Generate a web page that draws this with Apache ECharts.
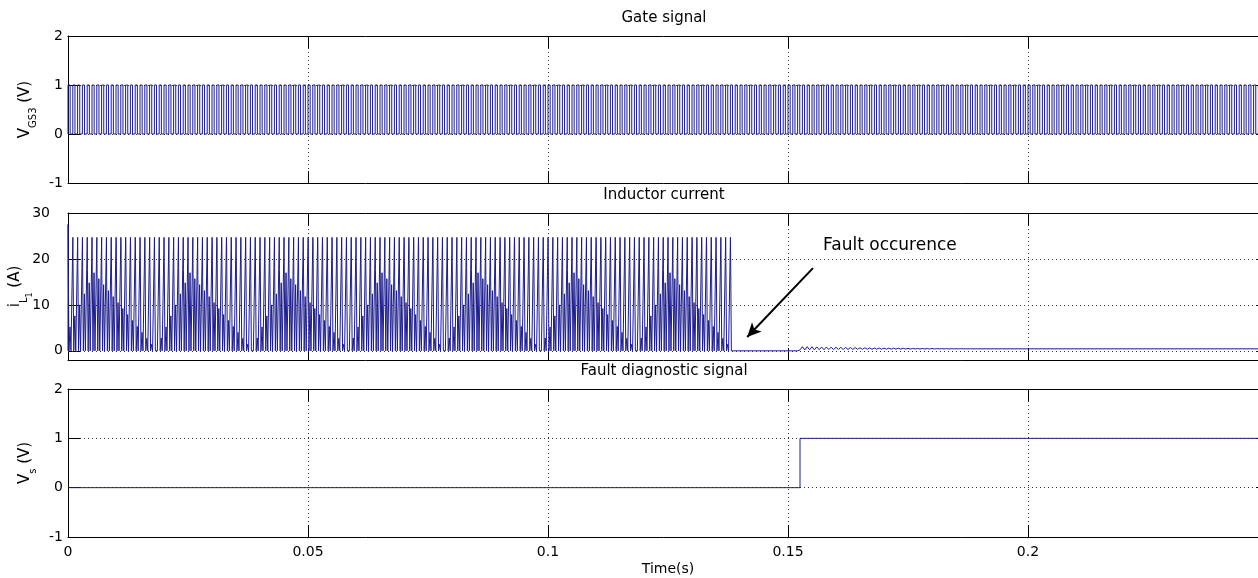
<!DOCTYPE html>
<html><head><meta charset="utf-8">
<script src="https://cdn.jsdelivr.net/npm/echarts@6/dist/echarts.min.js"></script>
<style>html,body{margin:0;padding:0;background:#fff}#c{width:1258px;height:578px}</style>
</head><body><div id="c"></div>
<script>
// ---------------- data ----------------
const panelTitles = ['Gate signal', 'Inductor current', 'Fault diagnostic signal'];
const xLabel = 'Time(s)';
const xRange = [0, 0.25];
const xStep = 0.05;

// Gate signal (PWM)
const gatePeriod = 0.001;   // s
const gateDuty = 0.45;
const gateLevels = [0, 1];

// Inductor current: one pulse per switching period until the fault
const pulsePeriod = 0.001;  // s
const pulsePeak = [27.5, 24.7, 24.7, 24.7, 24.7, 24.7, 24.7, 24.7, 24.7, 24.7,
  24.7, 24.7, 24.7, 24.7, 24.7, 24.7, 24.7, 24.7, 24.7, 24.7, 24.7, 24.7, 24.7, 24.7, 24.7, 24.7, 24.7, 24.7, 24.7, 24.7,
  24.7, 24.7, 24.7, 24.7, 24.7, 24.7, 24.7, 24.7, 24.7, 24.7, 24.7, 24.7, 24.7, 24.7, 24.7, 24.7, 24.7, 24.7, 24.7, 24.7,
  24.7, 24.7, 24.7, 24.7, 24.7, 24.7, 24.7, 24.7, 24.7, 24.7, 24.7, 24.7, 24.7, 24.7, 24.7, 24.7, 24.7, 24.7, 24.7, 24.7,
  24.7, 24.7, 24.7, 24.7, 24.7, 24.7, 24.7, 24.7, 24.7, 24.7, 24.7, 24.7, 24.7, 24.7, 24.7, 24.7, 24.7, 24.7, 24.7, 24.7,
  24.7, 24.7, 24.7, 24.7, 24.7, 24.7, 24.7, 24.7, 24.7, 24.7, 24.7, 24.7, 24.7, 24.7, 24.7, 24.7, 24.7, 24.7, 24.7, 24.7,
  24.7, 24.7, 24.7, 24.7, 24.7, 24.7, 24.7, 24.7, 24.7, 24.7, 24.7, 24.7, 24.7, 24.7, 24.7, 24.7, 24.7, 24.7, 24.7, 24.7,
  24.7, 24.7, 24.7, 24.7, 24.7, 24.7, 24.7, 24.7, 24.7];
const pulseMid = [19.5, 19.1, 18.6, 18.2, 17.7, 17.3, 16.8, 16.4, 15.9,
  24.5, 24.0, 23.6, 23.1, 22.7, 22.2, 21.8, 21.3, 20.9, 20.4, 20.0, 19.5, 19.1, 18.6, 18.2, 17.7, 17.3, 16.8, 16.4, 15.9,
  24.5, 24.0, 23.6, 23.1, 22.7, 22.2, 21.8, 21.3, 20.9, 20.4, 20.0, 19.5, 19.1, 18.6, 18.2, 17.7, 17.3, 16.8, 16.4, 15.9,
  24.5, 24.0, 23.6, 23.1, 22.7, 22.2, 21.8, 21.3, 20.9, 20.4, 20.0, 19.5, 19.1, 18.6, 18.2, 17.7, 17.3, 16.8, 16.4, 15.9,
  24.5, 24.0, 23.6, 23.1, 22.7, 22.2, 21.8, 21.3, 20.9, 20.4, 20.0, 19.5, 19.1, 18.6, 18.2, 17.7, 17.3, 16.8, 16.4, 15.9,
  24.5, 24.0, 23.6, 23.1, 22.7, 22.2, 21.8, 21.3, 20.9, 20.4, 20.0, 19.5, 19.1, 18.6, 18.2, 17.7, 17.3, 16.8, 16.4, 15.9,
  24.5, 24.0, 23.6, 23.1, 22.7, 22.2, 21.8, 21.3, 20.9, 20.4, 20.0, 19.5, 19.1, 18.6, 18.2, 17.7, 17.3, 16.8, 16.4, 15.9,
  24.5, 24.0, 23.6, 23.1, 22.7, 22.2, 21.8, 21.3, 20.9, 20.4];
const pulseKnee = [5.2, 7.6, 10.0, 12.4, 14.8,
  17.0, 15.7, 14.4, 13.1, 11.8, 10.5, 9.2, 7.9, 6.6, 5.3, 4.0, 2.7, 1.4, 0.4, 2.8, 5.2, 7.6, 10.0, 12.4, 14.8,
  17.0, 15.7, 14.4, 13.1, 11.8, 10.5, 9.2, 7.9, 6.6, 5.3, 4.0, 2.7, 1.4, 0.4, 2.8, 5.2, 7.6, 10.0, 12.4, 14.8,
  17.0, 15.7, 14.4, 13.1, 11.8, 10.5, 9.2, 7.9, 6.6, 5.3, 4.0, 2.7, 1.4, 0.4, 2.8, 5.2, 7.6, 10.0, 12.4, 14.8,
  17.0, 15.7, 14.4, 13.1, 11.8, 10.5, 9.2, 7.9, 6.6, 5.3, 4.0, 2.7, 1.4, 0.4, 2.8, 5.2, 7.6, 10.0, 12.4, 14.8,
  17.0, 15.7, 14.4, 13.1, 11.8, 10.5, 9.2, 7.9, 6.6, 5.3, 4.0, 2.7, 1.4, 0.4, 2.8, 5.2, 7.6, 10.0, 12.4, 14.8,
  17.0, 15.7, 14.4, 13.1, 11.8, 10.5, 9.2, 7.9, 6.6, 5.3, 4.0, 2.7, 1.4, 0.4, 2.8, 5.2, 7.6, 10.0, 12.4, 14.8,
  17.0, 15.7, 14.4, 13.1, 11.8, 10.5, 9.2, 7.9, 6.6, 5.3, 4.0, 2.7, 1.4, 0.4];
// pulse shape within one period (fractions of the period) and which level each vertex takes
const pulseShapePhase = [0, 0.01, 0.05, 0.2, 0.42, 0.62];
const pulseShapeLevel = ['zero', 'peak', 'mid', 'zero', 'knee', 'zero'];

// After the fault: zero, then a small ripple settling near 0.43 A
const faultTime = 0.139;
const rippleStart = 0.152;
const rippleStep = 0.0005;
const rippleVals = [0.2, 0.9, 0.2, 0.9, 0.22, 0.88, 0.22, 0.86, 0.24, 0.84, 0.24, 0.82, 0.26, 0.8, 0.26, 0.78,
  0.28, 0.76, 0.28, 0.74, 0.3, 0.72, 0.3, 0.7, 0.32, 0.68, 0.32, 0.66, 0.34, 0.64, 0.34, 0.62,
  0.35, 0.6, 0.35, 0.59, 0.36, 0.58, 0.36, 0.57, 0.37, 0.56, 0.37, 0.55, 0.38, 0.54, 0.38, 0.53,
  0.39, 0.52, 0.39, 0.51, 0.4, 0.5, 0.4, 0.49, 0.41, 0.48, 0.41, 0.47, 0.42, 0.46, 0.42, 0.45,
  0.42, 0.45, 0.43, 0.44, 0.43, 0.44, 0.43, 0.44, 0.43, 0.43, 0.43, 0.43];
const finalCurrent = 0.43;

// Fault diagnostic signal
const diagT = [0, 0.1525, 0.1525, 0.25];
const diagV = [0, 0, 1, 1];

// Annotation
const annotText = 'Fault occurence';
const annotAt = [0.1573, 23.0];
const arrowFrom = [0.1552, 18.0];
const arrowTo = [0.1415, 3.0];

// Axis ranges / ticks
const yRanges = [[-1, 2], [-2, 30], [-1, 2]];
const yTicks = [[-1, 0, 1, 2], [0, 10, 20, 30], [-1, 0, 1, 2]];

// ---------------- build series data ----------------
const gateData = [];
for (let t0 = xRange[0]; t0 < xRange[1] - 1e-9; t0 += gatePeriod) {
  const t1 = t0 + gateDuty * gatePeriod;
  gateData.push([t0, gateLevels[0]], [t0, gateLevels[1]], [t1, gateLevels[1]], [t1, gateLevels[0]]);
}
gateData.push([xRange[1], gateLevels[0]]);

const currentData = [];
for (let k = 0; k < pulsePeak.length; k++) {
  const t0 = k * pulsePeriod;
  const lv = { zero: 0, peak: pulsePeak[k], mid: pulseMid[k], knee: pulseKnee[k] };
  for (let j = 0; j < pulseShapePhase.length; j++)
    currentData.push([t0 + pulseShapePhase[j] * pulsePeriod, lv[pulseShapeLevel[j]]]);
}
currentData.push([faultTime, 0], [rippleStart, 0]);
rippleVals.forEach((v, i) => currentData.push([rippleStart + (i + 1) * rippleStep, v]));
currentData.push([xRange[1], finalCurrent]);

const diagData = diagT.map((t, i) => [t, diagV[i]]);

// ---------------- chart ----------------
const FONT = 'DejaVu Sans';
const LINE = '#1c1c8e';
const GRID_LINE = { color: '#333', type: [1, 3], width: 1 };
const grids = [
  { left: 68, top: 36, width: 1200, height: 147 },
  { left: 68, top: 213, width: 1200, height: 147 },
  { left: 68, top: 389, width: 1200, height: 148 }
];
grids.forEach(g => { g.outerBoundsMode = 'none'; g.containLabel = false; });

const xAxis = [], yAxis = [];
const yNames = [
  '{m|V}{s|GS3}{m| (V)}',
  '{m|i}{s|L}{ss|1}{m| (A)}',
  '{m|V}{s|s}{m| (V)}'
];
const nameRich = {
  m: { fontFamily: FONT, fontSize: 15, color: '#000', lineHeight: 18, verticalAlign: 'top' },
  s: { fontFamily: FONT, fontSize: 10, color: '#000', lineHeight: 10, padding: [11, 0, 0, 0], verticalAlign: 'top' },
  ss: { fontFamily: FONT, fontSize: 8, color: '#000', lineHeight: 8, padding: [18, 0, 0, 0], verticalAlign: 'top' }
};
for (let i = 0; i < 3; i++) {
  const tick = { show: true, inside: true, length: 12, lineStyle: { color: '#000' } };
  xAxis.push({
    type: 'value', gridIndex: i, min: xRange[0], max: xRange[1], interval: xStep, position: 'bottom',
    axisLine: { show: true, onZero: false, lineStyle: { color: '#000' } },
    axisTick: tick,
    axisLabel: { show: i === 2, fontFamily: FONT, fontSize: 14, color: '#000', margin: 8, showMaxLabel: false },
    splitLine: { show: true, lineStyle: GRID_LINE },
    name: i === 2 ? xLabel : '', nameLocation: 'middle', nameGap: 25,
    nameTextStyle: { fontFamily: FONT, fontSize: 14, color: '#000' }
  });
  xAxis.push({
    type: 'value', gridIndex: i, min: xRange[0], max: xRange[1], interval: xStep, position: 'top',
    axisLine: { show: true, onZero: false, lineStyle: { color: '#000' } },
    axisTick: tick, axisLabel: { show: false }, splitLine: { show: false }
  });
  const yr = yRanges[i];
  const custom = i === 1;
  const yl = {
    type: 'value', gridIndex: i, min: yr[0], max: yr[1], position: 'left',
    axisLine: { show: true, onZero: false, lineStyle: { color: '#000' } },
    axisTick: custom ? Object.assign({ customValues: yTicks[i] }, tick) : tick,
    axisLabel: { fontFamily: FONT, fontSize: 14, color: '#000', margin: 5 },
    splitLine: { show: !custom, lineStyle: GRID_LINE },
    name: custom ? '' : yNames[i], nameLocation: 'middle', nameRotate: 90, nameGap: 32,
    nameTextStyle: { rich: nameRich }
  };
  if (custom) {
    yl.axisLabel.customValues = yTicks[i];
    yl.axisLabel.formatter = v => (Math.abs(v) >= 10 ? '{w|' + v + '}' : '{n|' + v + '}');
    yl.axisLabel.rich = {
      w: { fontFamily: FONT, fontSize: 14, color: '#000', padding: [0, 13, 0, 0] },
      n: { fontFamily: FONT, fontSize: 14, color: '#000' }
    };
  } else yl.interval = 1;
  yAxis.push(yl);
  const yr2 = {
    type: 'value', gridIndex: i, min: yr[0], max: yr[1], position: 'right',
    axisLine: { show: true, onZero: false, lineStyle: { color: '#000' } },
    axisTick: custom ? Object.assign({ customValues: yTicks[i] }, tick) : tick,
    axisLabel: { show: false }, splitLine: { show: false }
  };
  if (!custom) yr2.interval = 1;
  yAxis.push(yr2);
}

const base = { type: 'line', showSymbol: false, symbol: 'none', animation: false, z: 3,
  lineStyle: { color: LINE, width: 1 }, itemStyle: { color: LINE } };

const option = {
  animation: false,
  backgroundColor: '#fff',
  title: panelTitles.map((t, i) => ({
    text: t, left: 664, textAlign: 'center', top: grids[i].top - 25, padding: 0,
    textStyle: { fontFamily: FONT, fontSize: 15, fontWeight: 'normal', color: '#000' }
  })),
  graphic: [{
    type: 'text', x: 17, y: grids[1].top + grids[1].height / 2, rotation: Math.PI / 2, silent: true,
    style: { text: yNames[1], rich: nameRich, align: 'center', verticalAlign: 'middle' }
  }],
  grid: grids,
  xAxis: xAxis,
  yAxis: yAxis,
  series: [
    Object.assign({}, base, { name: 'gate', xAxisIndex: 0, yAxisIndex: 0, data: gateData }),
    { type: 'line', xAxisIndex: 2, yAxisIndex: 2, data: [], z: 1, silent: true,
      markLine: { silent: true, symbol: ['none', 'none'], label: { show: false }, animation: false,
        lineStyle: GRID_LINE, data: [{ yAxis: 0 }, { yAxis: 10 }, { yAxis: 20 }] } },
    Object.assign({}, base, { name: 'current', xAxisIndex: 2, yAxisIndex: 2, data: currentData,
      markLine: { silent: true, animation: false, symbol: ['none', 'arrow'], symbolSize: [10, 14],
        label: { show: false }, lineStyle: { color: '#000', width: 2, type: 'solid' },
        data: [[{ coord: arrowFrom }, { coord: arrowTo }]] },
      markPoint: { silent: true, animation: false, symbol: 'circle', symbolSize: 0,
        label: { show: true, position: 'right', distance: 0, formatter: annotText,
          fontFamily: FONT, fontSize: 17, color: '#000' },
        data: [{ coord: annotAt }] } }),
    Object.assign({}, base, { name: 'diag', xAxisIndex: 4, yAxisIndex: 4, data: diagData })
  ]
};
const chart = echarts.init(document.getElementById('c'), null, { renderer: 'canvas' });
chart.setOption(option);
</script></body></html>
